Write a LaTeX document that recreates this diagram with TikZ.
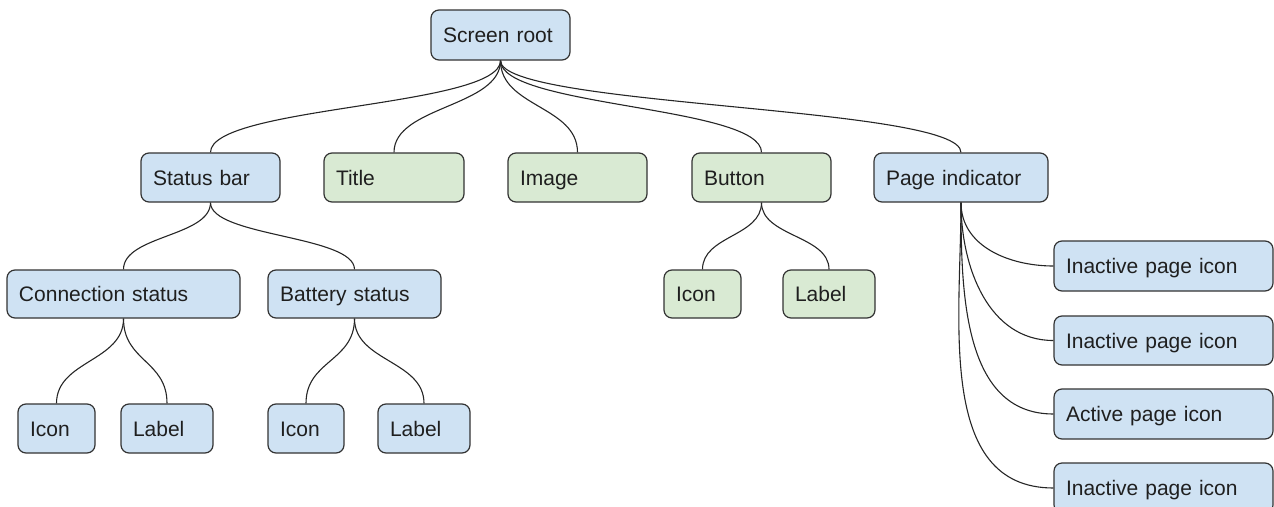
\documentclass[tikz,border=0pt]{standalone}
\usepackage{fontspec}
\setmainfont{Liberation Sans}
\definecolor{bfill}{HTML}{CFE2F3}
\definecolor{gfill}{HTML}{D9EAD3}
\definecolor{edge}{HTML}{333333}
\definecolor{txt}{HTML}{1F1F1F}
\tikzset{
  bx/.style={draw=edge, line width=1.2pt, rounded corners=8pt, inner xsep=12pt, inner ysep=0pt,
    align=left, text=txt, font=\fontsize{21}{25}\selectfont, anchor=center,
    text height=15pt, text depth=0pt},
  bluebox/.style={bx, fill=bfill},
  greenbox/.style={bx, fill=gfill},
  link/.style={draw=black!85, line width=1.1pt}
}
\newcommand{\mybox}[7]{%
  \pgfmathsetmacro{\cx}{(#2+#4)/2}%
  \pgfmathsetmacro{\cy}{(#3+#5)/2}%
  \pgfmathsetmacro{\bw}{#4-#2}%
  \pgfmathsetmacro{\bh}{#5-#3}%
  \pgfmathsetmacro{\tw}{#4-#2-24}%
  \node[#6, minimum height=\bh pt, text width=\tw pt] (#1) at (\cx,\cy) {#7};}
\begin{document}
\begin{tikzpicture}[x=1pt,y=-1pt]
\useasboundingbox (0,0) rectangle (1274,506);
\mybox{root}{431}{10}{570}{60}{bluebox}{Screen root}
\mybox{sb}{141}{153}{280}{202}{bluebox}{Status bar}
\mybox{title}{324}{153}{464}{202}{greenbox}{Title}
\mybox{image}{508}{153}{647}{202}{greenbox}{Image}
\mybox{button}{692}{153}{831}{202}{greenbox}{Button}
\mybox{pi}{874}{153}{1048}{202}{bluebox}{Page indicator}
\mybox{cs}{7}{270}{240}{318}{bluebox}{Connection status}
\mybox{bs}{268}{270}{441}{318}{bluebox}{Battery status}
\mybox{csi}{18}{404}{95}{453}{bluebox}{Icon}
\mybox{csl}{121}{404}{213}{453}{bluebox}{Label}
\mybox{bsi}{268}{404}{344}{453}{bluebox}{Icon}
\mybox{bsl}{378}{404}{470}{453}{bluebox}{Label}
\mybox{bi}{664}{270}{741}{318}{greenbox}{Icon}
\mybox{bl}{783}{270}{875}{318}{greenbox}{Label}
\mybox{p1}{1054}{241}{1273}{291}{bluebox}{Inactive page icon}
\mybox{p2}{1054}{316}{1273}{365}{bluebox}{Inactive page icon}
\mybox{p3}{1054}{389}{1273}{439}{bluebox}{Active page icon}
\mybox{p4}{1054}{463}{1273}{513}{bluebox}{Inactive page icon}
% root links
\foreach \c in {sb,title,image,button,pi}
  \draw[link] (root.south) .. controls +(0,46.5) and +(0,-46.5) .. (\c.north);
\foreach \c in {cs,bs}
  \draw[link] (sb.south) .. controls +(0,34) and +(0,-34) .. (\c.north);
\foreach \c in {bi,bl}
  \draw[link] (button.south) .. controls +(0,34) and +(0,-34) .. (\c.north);
\foreach \c in {csi,csl}
  \draw[link] (cs.south) .. controls +(0,43) and +(0,-43) .. (\c.north);
\foreach \c in {bsi,bsl}
  \draw[link] (bs.south) .. controls +(0,43) and +(0,-43) .. (\c.north);
\foreach \c in {p1,p2,p3,p4}
  \draw[link] (pi.south) to[out=-90,in=180] (\c.west);
\end{tikzpicture}
\end{document}
